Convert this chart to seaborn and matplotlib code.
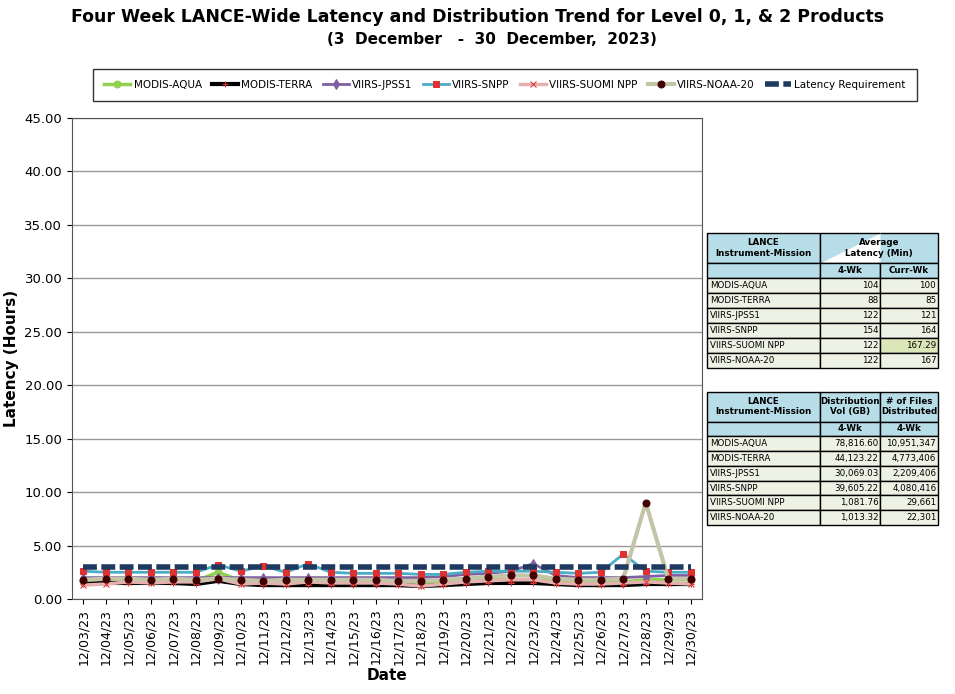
import matplotlib
matplotlib.use("Agg")
import matplotlib.pyplot as plt
import seaborn as sns
import pandas as pd

dates = ["12/%02d/23" % d for d in range(3, 31)]
aqua  = [1.7,1.7,1.8,1.7,1.8,1.7,2.5,1.7,1.7,1.7,1.8,1.7,1.7,1.7,1.6,1.6,1.6,1.7,1.8,1.8,1.8,1.7,1.6,1.6,1.6,1.8,1.8,1.8]
terra = [1.4,1.5,1.5,1.5,1.5,1.4,1.7,1.4,1.3,1.3,1.3,1.3,1.3,1.3,1.3,1.2,1.3,1.4,1.5,1.5,1.5,1.4,1.3,1.3,1.3,1.4,1.4,1.4]
jpss1 = [2.0,2.0,2.0,2.0,2.0,2.0,2.0,2.0,2.0,2.0,2.0,2.0,2.0,2.0,2.0,2.0,2.1,2.3,2.4,2.6,3.3,2.2,2.0,2.0,2.0,2.1,2.2,2.2]
snpp  = [2.6,2.5,2.5,2.5,2.5,2.5,3.2,2.6,3.1,2.5,3.3,2.5,2.4,2.4,2.4,2.3,2.3,2.5,2.6,2.6,2.6,2.5,2.4,2.5,4.2,2.6,2.5,2.5]
suomi = [1.3,1.4,1.6,1.5,1.6,1.6,1.9,1.4,1.5,1.4,1.6,1.5,1.5,1.5,1.4,1.2,1.4,1.6,1.7,1.8,1.8,1.5,1.4,1.4,1.5,1.6,1.5,1.4]
noaa20= [1.8,1.9,1.9,1.8,1.9,1.8,1.9,1.8,1.7,1.8,1.8,1.8,1.8,1.8,1.7,1.7,1.8,1.9,2.1,2.2,2.2,1.9,1.8,1.8,1.9,9.0,1.9,1.9]
req   = [3.0]*28

series = [
    ("MODIS-AQUA", aqua, "#92D050", "o", "#92D050", 2.5),
    ("MODIS-TERRA", terra, "#000000", "+", "#E03030", 3),
    ("VIIRS-JPSS1", jpss1, "#7F5FA0", "d", "#7F5FA0", 2),
    ("VIIRS-SNPP", snpp, "#4BACC6", "s", "#E03030", 2),
    ("VIIRS-SUOMI NPP", suomi, "#E6B0B0", "x", "#E03030", 2.5),
    ("VIIRS-NOAA-20", noaa20, "#C4C4A8", "o", "#400000", 3),
]

fig = plt.figure(figsize=(9.55, 6.94), dpi=100)
ax = fig.add_axes([72/955, 95/694, 630/955, 481/694])
x = list(range(len(dates)))
for name, vals, col, mk, mcol, lw in series:
    df = pd.DataFrame({"x": x, "y": vals})
    sns.lineplot(data=df, x="x", y="y", ax=ax, color=col, lw=lw, marker=mk,
                 markersize=5, markerfacecolor=mcol, markeredgecolor=mcol, label=name)
sns.lineplot(x=x, y=req, ax=ax, color="#1F3A60", lw=4, label="Latency Requirement")
ax.lines[-1].set_linestyle((0, (2.5, 0.8)))
ax.set_ylim(0, 45)
ax.set_yticks([i*5 for i in range(10)])
ax.set_yticklabels(["%.2f" % (i*5) for i in range(10)], fontsize=9.5)
ax.set_xlim(-0.5, len(dates)-0.5)
ax.set_xticks(x)
ax.set_xticklabels(dates, rotation=90, fontsize=9)
ax.grid(axis="y", color="#999999", lw=1)
for s in ax.spines.values():
    s.set_color("#555555")
ax.set_xlabel("Date", fontsize=11, fontweight="bold", labelpad=2)
ax.set_ylabel("Latency (Hours)", fontsize=11, fontweight="bold")
h, l = ax.get_legend_handles_labels()
ax.get_legend().remove()
fig.legend(h, l, loc="center", bbox_to_anchor=(505/955, 1-85/694), ncol=7, fontsize=7.5,
           frameon=True, edgecolor="black", fancybox=False, handlelength=2.5, columnspacing=1.0,
           handletextpad=0.3, borderpad=1.1)
fig.text(0.5, 1-22/694, "Four Week LANCE-Wide Latency and Distribution Trend for Level 0, 1, & 2 Products",
         ha="center", fontsize=12.5, fontweight="bold")
fig.text(0.515, 1-44/694, "(3  December   -  30  December,  2023)", ha="center", fontsize=11, fontweight="bold")

missions = ["MODIS-AQUA", "MODIS-TERRA", "VIIRS-JPSS1", "VIIRS-SNPP", "VIIRS-SUOMI NPP", "VIIRS-NOAA-20"]
lat4 = ["104", "88", "122", "154", "122", "122"]
latcur = ["100", "85", "121", "164", "167.29", "167"]
vol = ["78,816.60", "44,123.22", "30,069.03", "39,605.22", "1,081.76", "1,013.32"]
files = ["10,951,347", "4,773,406", "2,209,406", "4,080,416", "29,661", "22,301"]

def table(rect, h1, h2, h3, sub, c2, c3, merged=False):
    t = fig.add_axes(rect)
    t.axis("off")
    cells = [[h1, h2, h3], ["", sub[0], sub[1]]] + [[m, a, b] for m, a, b in zip(missions, c2, c3)]
    tb = t.table(cellText=cells, bbox=[0, 0, 1, 1], colWidths=[0.49, 0.26, 0.25])
    tb.auto_set_font_size(False)
    for (r, c), cell in tb.get_celld().items():
        cell.set_fontsize(6.3)
        cell.set_linewidth(1)
        cell.PAD = 0.03
        if r <= 1:
            cell.set_facecolor("#B7DDE8"); cell.get_text().set_fontweight("bold")
            cell._loc = "center"; cell.get_text().set_ha("center")
            cell.set_height((2.0 if r == 0 else 1.0)/9)
        else:
            cell.set_facecolor("#EEF2E4"); cell.set_height(1.0/9)
            cell._loc = "left" if c == 0 else "right"
            cell.get_text().set_ha(cell._loc)
    if merged:
        tb[(0, 1)].get_text().set_text("")
        tb[(0, 1)].visible_edges = "BLT"
        tb[(0, 2)].visible_edges = "BRT"
        t.text(0.49 + 0.255, 1 - 1.0/9, h2, ha="center", va="center", fontsize=6.3, fontweight="bold",
               transform=t.transAxes)
        tb[(6, 2)].set_facecolor("#DCE6B8")

table([707/955, 1-368/694, 231/955, 135/694], "LANCE\nInstrument-Mission", "Average\nLatency (Min)", "",
      ("4-Wk", "Curr-Wk"), lat4, latcur, merged=True)
table([707/955, 1-525/694, 231/955, 133/694], "LANCE\nInstrument-Mission", "Distribution\nVol (GB)", "# of Files\nDistributed",
      ("4-Wk", "4-Wk"), vol, files)
fig.savefig("out.png", dpi=100)
